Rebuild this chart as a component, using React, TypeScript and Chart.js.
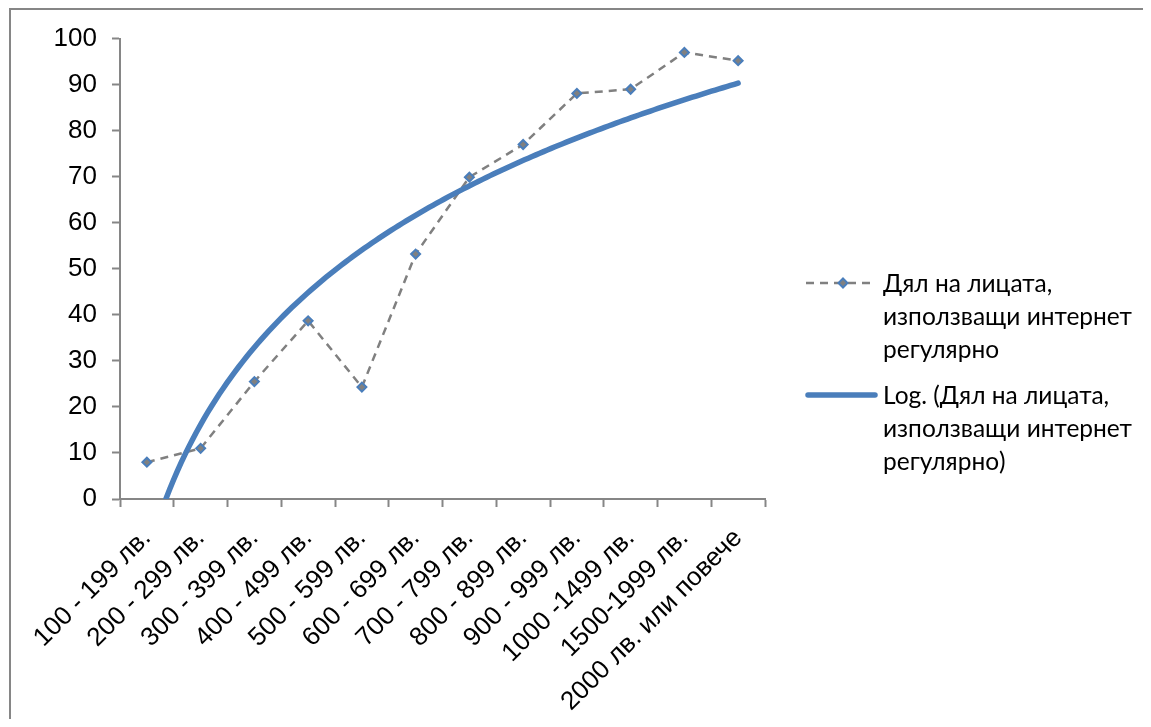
import React, { useEffect, useRef } from "react";
import { Chart, registerables } from "chart.js";

Chart.register(...registerables);

const categories: string[] = [
  "100 - 199 лв.",
  "200 - 299 лв.",
  "300 - 399 лв.",
  "400 - 499 лв.",
  "500 - 599 лв.",
  "600 - 699 лв.",
  "700 - 799 лв.",
  "800 - 899 лв.",
  "900 - 999 лв.",
  "1000 -1499 лв.",
  "1500-1999 лв.",
  "2000 лв. или повече",
];

const shareValues: number[] = [8.0, 11.0, 25.5, 38.7, 24.3, 53.2, 69.9, 77.0, 88.1, 89.0, 97.0, 95.2];

const yTicks: number[] = [0, 10, 20, 30, 40, 50, 60, 70, 80, 90, 100];

const seriesLabel = "Дял на лицата, използващи интернет регулярно";
const trendLabel = "Log. (Дял на лицата, използващи интернет регулярно)";

// Least-squares logarithmic trendline (y = a*ln(x) + b), as Excel computes it
function logFit(vals: number[]) {
  const n = vals.length;
  let sl = 0, sy = 0, sll = 0, sly = 0;
  vals.forEach((y, i) => {
    const l = Math.log(i + 1);
    sl += l; sy += y; sll += l * l; sly += l * y;
  });
  const a = (n * sly - sl * sy) / (n * sll - sl * sl);
  const b = (sy - a * sl) / n;
  return { a, b };
}

function trendPoints(vals: number[]) {
  const { a, b } = logFit(vals);
  const start = Math.max(1, Math.exp(-b / a));
  const end = vals.length;
  const pts: { x: number; y: number }[] = [];
  const steps = 150;
  for (let i = 0; i <= steps; i++) {
    const x = start + ((end - start) * i) / steps;
    pts.push({ x, y: a * Math.log(x) + b });
  }
  return pts;
}

const AXIS_GRAY = "#868686";
const BLUE = "#4A7EBB";
const GRAY = "#808080";

const framePlugin = {
  id: "frame",
  beforeDraw(chart: any) {
    const ctx = chart.ctx;
    ctx.save();
    ctx.strokeStyle = AXIS_GRAY;
    ctx.lineWidth = 2;
    ctx.beginPath();
    ctx.moveTo(2, chart.height);
    ctx.lineTo(2, 1);
    ctx.lineTo(chart.width, 1);
    ctx.stroke();
    ctx.restore();
  },
};

export default function App() {
  const ref = useRef<HTMLCanvasElement | null>(null);

  useEffect(() => {
    document.documentElement.style.overflow = "hidden";
    if (!ref.current) return;
    const chart = new Chart(ref.current, {
      type: "line",
      data: {
        labels: categories,
        datasets: [
          {
            label: seriesLabel,
            data: shareValues,
            xAxisID: "x",
            borderColor: GRAY,
            borderWidth: 2.5,
            borderDash: [8, 6],
            pointStyle: "rectRot",
            pointRadius: 4.5,
            pointBackgroundColor: GRAY,
            pointBorderColor: BLUE,
            pointBorderWidth: 2,
            tension: 0,
            order: 1,
          },
          {
            label: trendLabel,
            data: trendPoints(shareValues) as any,
            xAxisID: "x2",
            borderColor: BLUE,
            borderWidth: 5.5,
            pointRadius: 0,
            tension: 0,
            borderCapStyle: "round",
            order: 0,
          } as any,
        ],
      },
      plugins: [framePlugin],
      options: {
        responsive: false,
        animation: false,
        devicePixelRatio: 1,
        layout: { padding: { left: 0, top: 29, right: 386, bottom: 0 } },
        plugins: {
          legend: { display: false },
          tooltip: { enabled: false },
        },
        scales: {
          x: {
            type: "category",
            offset: true,
            grid: {
              offset: true,
              drawOnChartArea: false,
              drawTicks: true,
              tickLength: 8,
              tickColor: AXIS_GRAY,
              tickWidth: 2,
            },
            border: { color: AXIS_GRAY, width: 2 },
            ticks: {
              color: "#000",
              font: { family: "'Liberation Sans', Arial, sans-serif", size: 26 },
              maxRotation: 45,
              minRotation: 45,
              autoSkip: false,
              padding: 16,
            },
            afterFit: (s: any) => {
              s.height = 220;
            },
          },
          x2: {
            type: "linear",
            display: false,
            min: 0.5,
            max: 12.5,
          },
          y: {
            type: "linear",
            min: 0,
            max: 100,
            afterBuildTicks: (s: any) => {
              s.ticks = yTicks.map((v) => ({ value: v }));
            },
            grid: {
              drawOnChartArea: false,
              drawTicks: true,
              tickLength: 8,
              tickColor: AXIS_GRAY,
              tickWidth: 2,
            },
            border: { color: AXIS_GRAY, width: 2 },
            ticks: {
              color: "#000",
              font: { family: "'Liberation Sans', Arial, sans-serif", size: 26 },
              padding: 15,
            },
            afterFit: (s: any) => {
              s.width = 112;
            },
          },
        },
      },
    });
    return () => chart.destroy();
  }, []);

  const legendText: React.CSSProperties = {
    position: "absolute",
    left: 875,
    fontFamily: "Lato, 'Open Sans', sans-serif",
    fontSize: 24.5,
    lineHeight: "33px",
    color: "#000",
    whiteSpace: "nowrap",
  };

  return (
    <div style={{ position: "relative", width: 1143, height: 711 }}>
      <canvas ref={ref} width={1143} height={711} style={{ position: "absolute", left: 0, top: 0 }} />
      <svg width={90} height={150} style={{ position: "absolute", left: 790, top: 260 }}>
        <line x1={8} y1={15} x2={72} y2={15} stroke={GRAY} strokeWidth={2.5} strokeDasharray="8 6" />
        <polygon points="45,10.5 49.5,15 45,19.5 40.5,15" fill={GRAY} stroke={BLUE} strokeWidth={2} />
        <line x1={10} y1={127} x2={77} y2={127} stroke={BLUE} strokeWidth={5.5} strokeLinecap="round" />
      </svg>
      <div style={{ ...legendText, top: 258 }}>
        Дял на лицата,
        <br />
        използващи интернет
        <br />
        регулярно
      </div>
      <div style={{ ...legendText, top: 370 }}>
        Log. (Дял на лицата,
        <br />
        използващи интернет
        <br />
        регулярно)
      </div>
    </div>
  );
}
